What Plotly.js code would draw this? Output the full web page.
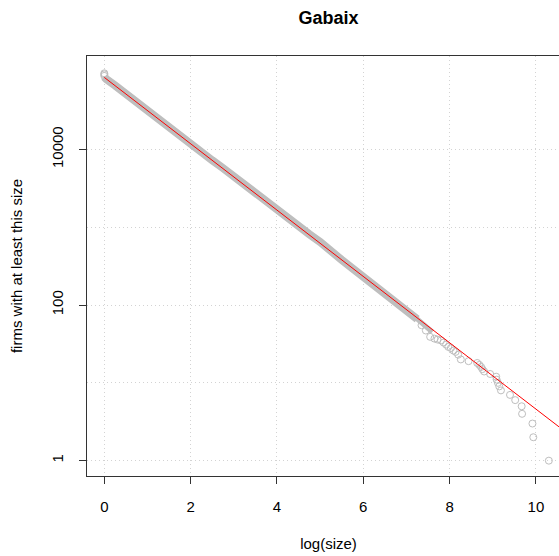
<!DOCTYPE html>
<html>
<head>
<meta charset="utf-8">
<script src="https://cdn.plot.ly/plotly-3.0.1.min.js"></script>
<style>
html,body{margin:0;padding:0;overflow:hidden;background:#fff;}
#chart{width:572px;height:556px;}
</style>
</head>
<body>
<div id="chart"></div>
<script>
// Dense part of the rank/size cloud (read along the band centre)
const bandX = [0, 0.05, 0.25, 0.5, 0.75, 1.0, 1.25, 1.5, 1.75, 2.0, 2.25, 2.5, 2.75, 3.0, 3.25, 3.5, 3.75, 4.0, 4.25, 4.5, 4.75, 5.0, 5.25, 5.5, 5.75, 6.0, 6.25, 6.5, 6.75, 7.0, 7.25];
const bandN = [85100, 79400, 66100, 51300, 40300, 31600, 24500, 19300, 15100, 11700, 9230, 7240, 5750, 4470, 3550, 2750, 2190, 1700, 1300, 1020, 813, 646, 513, 380, 295, 229, 178, 138, 110, 85, 66];

// Thinner end of the band where points start to separate
const thinX = [7.1, 7.3, 7.5, 7.6];
const thinN = [78, 62, 51, 45];

// Individually visible points (size-1 blob and the sparse tail)
const pointX = [0, 0, 0, 7.35, 7.45, 7.55, 7.65, 7.72, 7.80, 7.86, 7.92, 7.97, 8.03, 8.09, 8.14, 8.20, 8.26, 8.44, 8.64, 8.69, 8.73, 8.76, 8.80, 8.94, 9.08, 9.09, 9.12, 9.15, 9.19, 9.40, 9.52, 9.67, 9.68, 9.92, 9.94, 10.30];
const pointN = [95000, 92000, 88000, 55, 47, 39, 37, 36, 35, 33, 31, 29, 28, 26, 25, 23, 20, 19, 18, 17, 16, 15, 14, 13, 12, 11, 10, 9, 8, 7, 6, 5, 4, 3, 2, 1];

// Fitted power-law line
const fitX = [0, 12];
const fitN = [84100, 0.6465];

const xTicks = [0, 2, 4, 6, 8, 10];
const yTicks = [1, 100, 10000];
const yTickText = ['1', '100', '10000'];
const yMinorGrid = [10, 1000];

const gray = '#BEBEBE';
const fam = '"Liberation Sans", Arial, Helvetica, sans-serif';
const gridDash = '1px,3px';
const gridColor = '#D3D3D3';

const traces = [
  {x: bandX, y: bandN, type: 'scatter', mode: 'lines',
   line: {color: gray, width: 8}, hoverinfo: 'skip', showlegend: false},
  {x: thinX, y: thinN, type: 'scatter', mode: 'lines',
   line: {color: gray, width: 5}, hoverinfo: 'skip', showlegend: false},
  {x: pointX, y: pointN, type: 'scatter', mode: 'markers',
   marker: {symbol: 'circle-open', size: 7, color: gray, line: {color: gray, width: 1}},
   showlegend: false},
  {x: fitX, y: fitN, type: 'scatter', mode: 'lines',
   line: {color: '#FF0000', width: 1}, showlegend: false}
];

const layout = {
  width: 572, height: 556,
  margin: {l: 87, r: 2, t: 56, b: 80},
  paper_bgcolor: '#fff', plot_bgcolor: '#fff',
  font: {family: fam, color: '#000', size: 15},
  showlegend: false,
  title: {text: '<b>Gabaix</b>', font: {family: fam, size: 18, color: '#000'},
          x: 0.5, xref: 'paper', xanchor: 'center', y: 1 - 18/556, yref: 'container', yanchor: 'middle'},
  xaxis: {
    range: [-0.401, 10.79], tickmode: 'array', tickvals: xTicks,
    ticks: 'outside', ticklen: 7, tickwidth: 1, tickcolor: '#333',
    ticklabelstandoff: 10,
    tickfont: {family: fam, size: 15, color: '#000'},
    showline: true, linecolor: '#333', linewidth: 1, mirror: true,
    showgrid: true, gridcolor: gridColor, gridwidth: 1, griddash: gridDash,
    zeroline: false,
    title: {text: 'log(size)', font: {family: fam, size: 15, color: '#000'}, standoff: 24}
  },
  yaxis: {
    type: 'log', range: [-0.197, 5.20], tickmode: 'array', tickvals: yTicks, ticktext: yTickText,
    tickangle: -90,
    ticks: 'outside', ticklen: 7, tickwidth: 1, tickcolor: '#333',
    ticklabelstandoff: 10,
    tickfont: {family: fam, size: 15, color: '#000'},
    showline: true, linecolor: '#333', linewidth: 1, mirror: true,
    showgrid: true, gridcolor: gridColor, gridwidth: 1, griddash: gridDash,
    minor: {tickmode: 'array', tickvals: yMinorGrid, showgrid: true, ticks: '',
            gridcolor: gridColor, gridwidth: 1, griddash: gridDash},
    zeroline: false,
    title: {text: 'firms with at least this size', font: {family: fam, size: 15, color: '#000'}, standoff: 22}
  }
};

Plotly.newPlot('chart', traces, layout, {displayModeBar: false, staticPlot: true});
</script>
</body>
</html>
